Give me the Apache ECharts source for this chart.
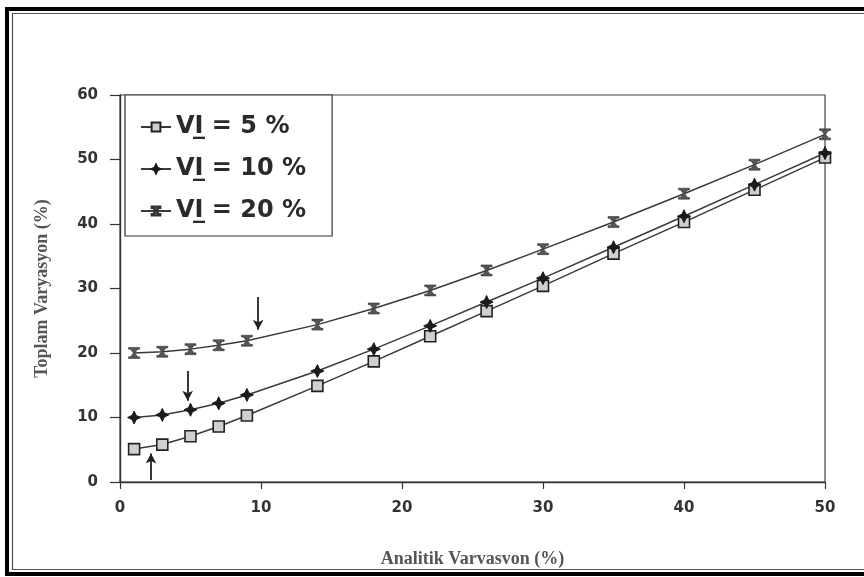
<!DOCTYPE html>
<html>
<head>
<meta charset="utf-8">
<title>Toplam Varyasyon</title>
<script src="https://cdn.jsdelivr.net/npm/echarts@6/dist/echarts.min.js"></script>
<style>
  html, body { margin: 0; padding: 0; background: #fff; }
  #chart { width: 864px; height: 577px; }
</style>
</head>
<body>
<div id="chart"></div>
<script>
// analitik varyasyon (x)
var xValues = [1, 3, 5, 7, 9, 14, 18, 22, 26, 30, 35, 40, 45, 50];
// toplam varyasyon, okunan degerler
var vi5  = [5.1, 5.8, 7.1, 8.6, 10.3, 14.9, 18.7, 22.6, 26.5, 30.4, 35.4, 40.3, 45.3, 50.3];
var vi10 = [10.0, 10.4, 11.2, 12.2, 13.5, 17.2, 20.6, 24.2, 27.9, 31.6, 36.4, 41.2, 46.1, 51.0];
var vi20 = [20.0, 20.2, 20.6, 21.2, 21.9, 24.4, 26.9, 29.7, 32.8, 36.1, 40.3, 44.7, 49.2, 53.9];
var seriesNames = ['VI\u0332 = 5 %', 'VI\u0332 = 10 %', 'VI\u0332 = 20 %'];
var xTicks = [0, 10, 20, 30, 40, 50];
var yTicks = [0, 10, 20, 30, 40, 50, 60];
// oklar: [x, y baslangic, y bitis]
var arrows = [[2.2, 0.3, 4.4], [4.8, 17.2, 12.6], [9.8, 28.7, 23.6]];

function pairs(ys) {
    return xValues.map(function (x, i) { return [x, ys[i]]; });
}

var lineColor = '#3a3a3a';
var symBox = 'path://M0,0H10V10H0Z';
var symStar = 'path://M5,0L6.6,3.4L10,5L6.6,6.6L5,10L3.4,6.6L0,5L3.4,3.4Z';
var symGlass = 'path://M0,0H10V1.6H8.2L5.6,5L8.2,8.4H10V10H0V8.4H1.8L4.4,5L1.8,1.6H0Z';

function arrowLine(a) {
    return {
        silent: true, symbol: ['none', 'arrow'], symbolSize: [8, 10],
        label: { show: false },
        lineStyle: { color: '#222', width: 1.8, type: 'solid' },
        data: [[{ coord: [a[0], a[1]] }, { coord: [a[0], a[2]] }]]
    };
}

var chart = echarts.init(document.getElementById('chart'));

var option = {
    animation: false,
    backgroundColor: '#fff',
    grid: {
        left: 120, right: 39, top: 95, bottom: 95,
        show: true, borderColor: '#444', borderWidth: 1.2
    },
    legend: {
        left: 125, top: 95,
        orient: 'vertical',
        itemGap: 18,
        itemWidth: 30,
        itemHeight: 11,
        padding: [20, 26, 13, 15],
        borderColor: '#333',
        borderWidth: 1.2,
        backgroundColor: '#fff',
        selectedMode: false,
        data: seriesNames,
        textStyle: {
            fontFamily: 'DejaVu Sans',
            fontWeight: 'bold',
            fontSize: 24,
            color: '#2a2a2a'
        }
    },
    xAxis: {
        type: 'value',
        min: 0, max: 50, interval: 10,
        name: 'Analitik Varvasvon (%)',
        nameLocation: 'middle',
        nameGap: 68,
        nameTextStyle: {
            fontFamily: 'Liberation Serif', fontWeight: 'bold', fontSize: 18, color: '#555'
        },
        axisLine: { lineStyle: { color: '#333', width: 1.4 } },
        axisTick: { length: 7, lineStyle: { color: '#333', width: 1.2 } },
        axisLabel: {
            margin: 19,
            fontFamily: 'DejaVu Sans', fontWeight: 'bold', fontSize: 15, color: '#333',
            formatter: function (v) { return xTicks.indexOf(v) >= 0 ? String(v) : ''; }
        },
        splitLine: { show: false }
    },
    yAxis: {
        type: 'value',
        min: 0, max: 60, interval: 10,
        name: 'Toplam Varyasyon (%)',
        nameLocation: 'middle',
        nameGap: 69,
        nameTextStyle: {
            fontFamily: 'Liberation Serif', fontWeight: 'bold', fontSize: 18, color: '#555'
        },
        axisLine: { show: true, lineStyle: { color: '#333', width: 1.4 } },
        axisTick: { show: true, length: 10, lineStyle: { color: '#333', width: 1.2 } },
        axisLabel: {
            margin: 22,
            fontFamily: 'DejaVu Sans', fontWeight: 'bold', fontSize: 15, color: '#333',
            formatter: function (v) { return yTicks.indexOf(v) >= 0 ? String(v) : ''; }
        },
        splitLine: { show: false }
    },
    series: [
        {
            name: seriesNames[0], type: 'line', data: pairs(vi5),
            symbol: symBox, symbolSize: 11,
            lineStyle: { color: lineColor, width: 1.5 },
            itemStyle: { color: '#cfcfcf', borderColor: '#222', borderWidth: 1.6 },
            markLine: arrowLine(arrows[0])
        },
        {
            name: seriesNames[1], type: 'line', data: pairs(vi10),
            symbol: symStar, symbolSize: 13,
            lineStyle: { color: lineColor, width: 1.5 },
            itemStyle: { color: '#1a1a1a', borderColor: '#1a1a1a', borderWidth: 1 },
            markLine: arrowLine(arrows[1])
        },
        {
            name: seriesNames[2], type: 'line', data: pairs(vi20),
            symbol: symGlass, symbolSize: 11,
            lineStyle: { color: lineColor, width: 1.5 },
            itemStyle: { color: '#555', borderColor: '#333', borderWidth: 0.6 },
            markLine: arrowLine(arrows[2])
        }
    ],
    graphic: [
        {
            type: 'rect', silent: true,
            shape: { x: 7, y: 9, width: 880, height: 565 },
            style: { fill: null, stroke: '#000', lineWidth: 4 }
        },
        {
            type: 'rect', silent: true,
            shape: { x: 12.5, y: 13.5, width: 870, height: 556 },
            style: { fill: null, stroke: '#555', lineWidth: 1.2 }
        }
    ]
};

chart.setOption(option);
</script>
</body>
</html>
